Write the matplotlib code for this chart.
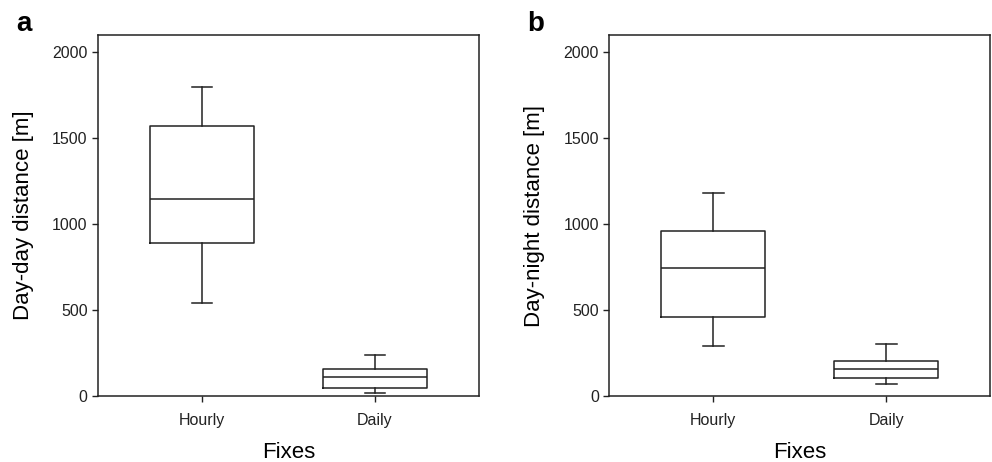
"""Box plots of day-day and day-night distances by fix interval."""

import matplotlib.pyplot as plt

plt.rcParams['font.family'] = ['Liberation Sans', 'DejaVu Sans']

categories = ['Hourly', 'Daily']

# Panel a: day-day distance [m]
dayday_whislo = [539, 19]
dayday_q1 = [893, 46]
dayday_med = [1144, 112]
dayday_q3 = [1569, 155]
dayday_whishi = [1800, 236]

# Panel b: day-night distance [m]
daynight_whislo = [293, 68]
daynight_q1 = [457, 107]
daynight_med = [746, 155]
daynight_q3 = [959, 206]
daynight_whishi = [1180, 300]

y_ticks = [0, 500, 1000, 1500, 2000]
INK = '#222222'


def make_stats(whislo, q1, med, q3, whishi):
    """Build the list of stat dicts that bxp needs."""
    stats = []
    for i, label in enumerate(categories):
        stats.append({'label': label, 'whislo': whislo[i], 'q1': q1[i],
                      'med': med[i], 'q3': q3[i], 'whishi': whishi[i],
                      'fliers': []})
    return stats


def draw_panel(axes, stats, ylabel, letter):
    """Draw one box plot panel."""
    line = {'color': INK, 'linewidth': 1.1}
    axes.bxp(stats, positions=[1, 2], widths=0.6, capwidths=0.12,
             showfliers=False, boxprops=line, medianprops=line,
             whiskerprops=line, capprops=line)
    axes.set_xlim(0.4, 2.6)
    axes.set_ylim(0, 2100)
    axes.set_yticks(y_ticks)
    axes.set_xticks([1, 2])
    axes.set_xticklabels(categories)
    axes.tick_params(direction='out', length=4, width=1.0, color=INK,
                     labelsize=11.5, labelcolor='#222222')
    axes.tick_params(axis='x', pad=8)
    for spine in axes.spines.values():
        spine.set_color(INK)
        spine.set_linewidth(1.1)
    axes.set_ylabel(ylabel, fontsize=16, labelpad=13)
    axes.set_xlabel('Fixes', fontsize=16, labelpad=10)
    axes.text(-0.215, 1.012, letter, transform=axes.transAxes,
              fontsize=20, fontweight='bold', va='baseline', ha='left')


fig = plt.figure(figsize=(9.92, 4.62), dpi=100)
ax_a = fig.add_axes([0.0988, 0.1429, 0.384, 0.781])
ax_b = fig.add_axes([0.6142, 0.1429, 0.384, 0.781])

draw_panel(ax_a, make_stats(dayday_whislo, dayday_q1, dayday_med,
                            dayday_q3, dayday_whishi),
           'Day-day distance [m]', 'a')
draw_panel(ax_b, make_stats(daynight_whislo, daynight_q1, daynight_med,
                            daynight_q3, daynight_whishi),
           'Day-night distance [m]', 'b')

fig.savefig('out.png', dpi=100)
plt.close(fig)
